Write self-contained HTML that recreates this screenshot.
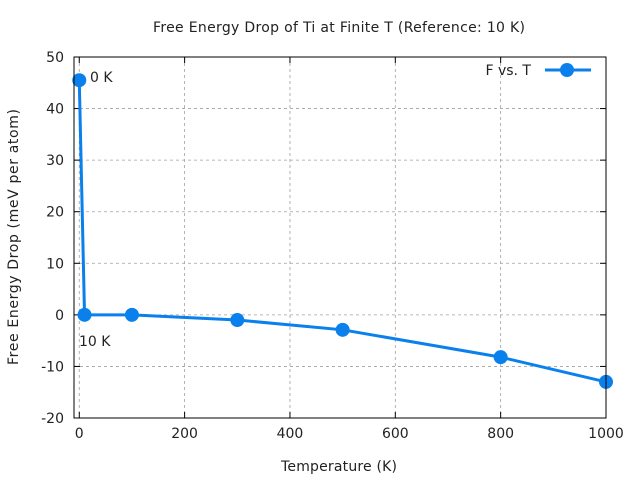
<!DOCTYPE html>
<html><head><meta charset="utf-8"><style>
body{margin:0;background:#fff;}
svg{display:block;font-family:"DejaVu Sans","Liberation Sans",sans-serif;}
</style></head><body>
<svg id="c" width="640" height="480">
<text x="339" y="32" font-size="14" text-anchor="middle" fill="#222" textLength="372">Free Energy Drop of Ti at Finite T (Reference: 10 K)</text>
<text x="339" y="471" font-size="14" text-anchor="middle" fill="#222" textLength="116">Temperature (K)</text>
<text transform="translate(18,237) rotate(-90)" font-size="14" text-anchor="middle" fill="#222" textLength="256">Free Energy Drop (meV per atom)</text>
<g id="grid"></g><g id="ticks"></g><g id="series"></g>
<rect x="74" y="57" width="532" height="361" fill="none" stroke="#000" stroke-width="1"/>
<text x="90" y="82" font-size="14" fill="#222">0 K</text>
<text x="79" y="346" font-size="14" fill="#222">10 K</text>
<g>
<text x="531" y="75" font-size="14" text-anchor="end" fill="#222">F vs. T</text>
<line x1="545" y1="70" x2="591" y2="70" stroke="#0a80ec" stroke-width="3"/>
<circle cx="567" cy="70" r="7" fill="#0a80ec"/>
</g>
</svg>
<script>
const temps=[0,10,100,300,500,800,1000];
const drops=[45.5,0,0,-1,-2.9,-8.2,-13];
const xTicks=[0,200,400,600,800,1000];
const yTicks=[-20,-10,0,10,20,30,40,50];
const L=74,R=606,T=57,B=418,xMin=-10,xMax=1000,yMin=-20,yMax=50;
const sx=v=>L+(v-xMin)/(xMax-xMin)*(R-L);
const sy=v=>B-(v-yMin)/(yMax-yMin)*(B-T);
const NS="http://www.w3.org/2000/svg";
function mk(t,a,p){const e=document.createElementNS(NS,t);for(const k in a)e.setAttribute(k,a[k]);p.appendChild(e);return e;}
const g=document.getElementById('grid'),tk=document.getElementById('ticks'),s=document.getElementById('series');
xTicks.forEach(v=>{const x=sx(v);
 const gl=mk('line',{x1:x,x2:x,y1:T,y2:B,stroke:'#a0a0a0','stroke-dasharray':'3,3','stroke-width':0.8},g);
 
 
 mk('line',{x1:x,x2:x,y1:B,y2:B-6,stroke:'#000'},tk);
 mk('line',{x1:x,x2:x,y1:T,y2:T+6,stroke:'#000'},tk);
 const t=mk('text',{x:x,y:B+20,'font-size':14,'text-anchor':'middle',fill:'#222'},tk);t.textContent=v;
 
 
});
yTicks.forEach(v=>{const y=sy(v);
 if(v>yMin&&v<yMax){const gl=mk('line',{x1:L,x2:R,y1:y,y2:y,stroke:'#a0a0a0','stroke-dasharray':'3,3','stroke-width':0.8},g);
 
 }
 mk('line',{x1:L,x2:L+6,y1:y,y2:y,stroke:'#000'},tk);
 mk('line',{x1:R,x2:R-6,y1:y,y2:y,stroke:'#000'},tk);
 const t=mk('text',{x:L-10,y:y+5,'font-size':14,'text-anchor':'end',fill:'#222'},tk);t.textContent=v;
 
 
});
const pl=mk('polyline',{points:temps.map((t,i)=>sx(t)+','+sy(drops[i])).join(' '),fill:'none',stroke:'#0a80ec','stroke-width':3,'stroke-linejoin':'round'},s);


temps.forEach((t,i)=>{const c=mk('circle',{cx:sx(t),cy:sy(drops[i]),r:7,fill:'#0a80ec'},s);
 
 
});
</script>
</body></html>
